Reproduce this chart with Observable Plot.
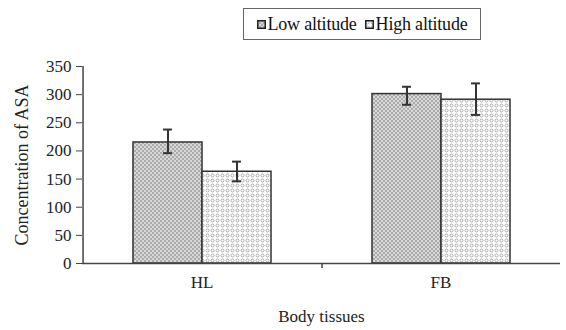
<!DOCTYPE html>
<html><head><meta charset="utf-8">
<script src="https://cdn.jsdelivr.net/npm/d3@7"></script>
<script src="https://cdn.jsdelivr.net/npm/@observablehq/plot@0.6"></script>
<style>
body{margin:0;background:#fff;font-family:'Liberation Serif';}
#defs{position:absolute;left:0;top:0;width:0;height:0;}
#legend{position:absolute;left:243px;top:8px;width:238px;height:32px;border:1.5px solid #666;box-sizing:border-box;display:flex;align-items:center;justify-content:center;gap:8px;font-family:'Liberation Serif';font-size:18px;color:#111;letter-spacing:-0.2px;}
#legend span{display:flex;align-items:center;gap:2px;}
#legend svg{display:block;}
#chart{position:absolute;left:0;top:48px;}
</style></head>
<body>
<svg id="defs" width="0" height="0"><defs>
<pattern id="p-low" patternUnits="userSpaceOnUse" width="4" height="4">
<rect width="4" height="4" fill="#d8d8d8"/><rect width="2" height="2" fill="#acacac"/><rect x="2" y="2" width="2" height="2" fill="#acacac"/>
</pattern>
<pattern id="p-high" patternUnits="userSpaceOnUse" width="5" height="5">
<rect width="5" height="5" fill="#fff"/><circle cx="2.5" cy="2.5" r="1.5" fill="none" stroke="#9a9a9a" stroke-width="0.8"/>
</pattern>
</defs></svg>
<div id="legend"></div>
<div id="chart"></div>
<script>
const tissues = ["HL", "FB"];
const series = ["Low altitude", "High altitude"];
const lowValues = [215, 301];
const highValues = [163, 291];
const lowErrTop = [238, 314];
const lowErrBottom = [196, 282];
const highErrTop = [181, 320];
const highErrBottom = [146, 264];
const yTicks = [0, 50, 100, 150, 200, 250, 300, 350];
const fills = ["url(#p-low)", "url(#p-high)"];
const FONT = "Liberation Serif";

const rows = [];
tissues.forEach((t, i) => {
  rows.push({tissue: t, series: series[0], value: lowValues[i], top: lowErrTop[i], bottom: lowErrBottom[i]});
  rows.push({tissue: t, series: series[1], value: highValues[i], top: highErrTop[i], bottom: highErrBottom[i]});
});

// legend
const legend = document.getElementById("legend");
series.forEach((s, i) => {
  const sp = document.createElement("span");
  sp.innerHTML = `<svg width="9" height="9"><rect x="0.75" y="0.75" width="7.5" height="7.5" fill="${fills[i]}" stroke="#222" stroke-width="1.5"/></svg>${s}`;
  legend.appendChild(sp);
});

const W = 566, H = 282, mL = 82, mR = 6;
const padOuter = 0.73;
const facetW = (W - mL - mR) / tissues.length;
const step = facetW / (series.length + 2 * padOuter);
const edgeDx = -(padOuter * step + step / 2);
const capInset = (step - 9) / 2;

const plot = Plot.plot({
  width: W, height: H,
  marginLeft: mL, marginRight: mR, marginTop: 18, marginBottom: 67,
  style: {fontFamily: FONT, fontSize: "17px", color: "#222", background: "transparent"},
  fx: {domain: tissues, padding: 0, label: null},
  x: {domain: series, paddingInner: 0, paddingOuter: padOuter, axis: null},
  y: {domain: [0, 350]},
  marks: [
    Plot.barY(rows.filter(d => d.series === series[0]), {fx: "tissue", x: "series", y: "value", fill: fills[0], stroke: "#333", strokeWidth: 1.5, inset: 0}),
    Plot.barY(rows.filter(d => d.series === series[1]), {fx: "tissue", x: "series", y: "value", fill: fills[1], stroke: "#333", strokeWidth: 1.5, inset: 0}),
    Plot.ruleX(rows, {fx: "tissue", x: "series", y1: "bottom", y2: "top", stroke: "#333", strokeWidth: 2}),
    Plot.tickY(rows, {fx: "tissue", x: "series", y: "top", stroke: "#333", strokeWidth: 2, insetLeft: capInset, insetRight: capInset}),
    Plot.tickY(rows, {fx: "tissue", x: "series", y: "bottom", stroke: "#333", strokeWidth: 2, insetLeft: capInset, insetRight: capInset}),
    Plot.ruleY([0], {stroke: "#444", strokeWidth: 1.5}),
    Plot.ruleX([{tissue: tissues[0], series: series[0]}], {fx: "tissue", x: "series", y1: 0, y2: 350, dx: edgeDx, stroke: "#444", strokeWidth: 1.5}),
    Plot.ruleX([{tissue: tissues[1], series: series[0]}], {fx: "tissue", x: "series", y1: 0, y2: 0, insetBottom: -5, dx: edgeDx, stroke: "#444", strokeWidth: 1.5}),
    Plot.axisY({ticks: yTicks, tickSize: 6, tickPadding: 5, label: null, fontSize: 17, fontFamily: FONT, stroke: "#444"}),
    Plot.axisFx({anchor: "bottom", tickSize: 0, tickPadding: 12, fontSize: 17, fontFamily: FONT, label: "Body tissues", labelAnchor: "center", labelOffset: 58, labelArrow: false}),
    Plot.text([{tissue: tissues[0], label: "Concentration of ASA"}], {fx: "tissue", text: "label", frameAnchor: "left", textAnchor: "middle", rotate: -90, dx: -60, dy: 0, fontSize: 18, fontFamily: FONT})
  ]
});
document.getElementById("chart").appendChild(plot);
</script>
</body></html>
